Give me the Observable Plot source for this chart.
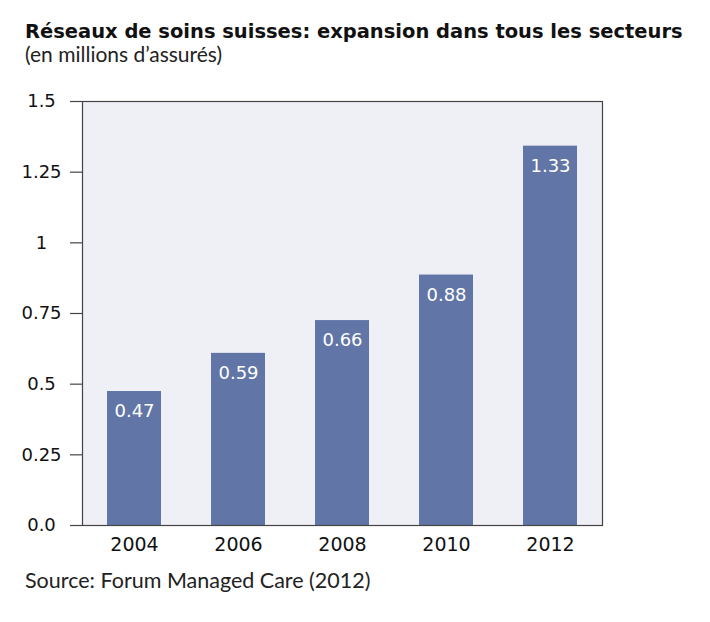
<!DOCTYPE html>
<html>
<head>
<meta charset="utf-8">
<script src="https://cdn.jsdelivr.net/npm/d3@7"></script>
<script src="https://cdn.jsdelivr.net/npm/@observablehq/plot@0.6"></script>
<style>
  html, body { margin: 0; padding: 0; background: #fff; }
  body { width: 710px; height: 622px; position: relative; overflow: hidden; font-family: "DejaVu Sans", sans-serif; color: #111; }
  .t { position: absolute; left: 25px; white-space: nowrap; line-height: 1; }
  #title { top: 21.5px; font-size: 18px; font-weight: bold; }
  #subtitle { top: 43px; font-family: Lato, sans-serif; font-size: 21px; color: #222; }
  #caption { top: 570px; font-family: Lato, sans-serif; font-size: 21.5px; color: #222; }
  #chart { position: absolute; left: 0; top: 85px; }
</style>
</head>
<body>
<div class="t" id="title">Réseaux de soins suisses: expansion dans tous les secteurs</div>
<div class="t" id="subtitle">(en millions d’assurés)</div>
<div id="chart"></div>
<div class="t" id="caption">Source: Forum Managed Care (2012)</div>
<script>
// Data
const years = ["2004", "2006", "2008", "2010", "2012"];
const barValues = [0.474, 0.609, 0.725, 0.886, 1.342];
const valueLabels = ["0.47", "0.59", "0.66", "0.88", "1.33"];
const yTicks = [0, 0.25, 0.5, 0.75, 1, 1.25, 1.5];
const yTickLabels = ["0.0", "0.25", "0.5", "0.75", "1", "1.25", "1.5"];

const data = years.map((y, i) => ({year: y, value: barValues[i], label: valueLabels[i]}));

// fit the title width to the reference
function fitWidth(id, target) {
  const el = document.getElementById(id);
  const fs = parseFloat(getComputedStyle(el).fontSize);
  const w = el.getBoundingClientRect().width;
  el.style.fontSize = (fs * target / w) + "px";
}
fitWidth("title", 658);

const chart = Plot.plot({
  width: 710,
  height: 480,
  marginLeft: 82,
  marginRight: 108,
  marginTop: 16,
  marginBottom: 40,
  style: {fontFamily: "DejaVu Sans, sans-serif", color: "#111", background: "transparent"},
  x: {domain: years, paddingInner: 0.48, paddingOuter: 0.24, axis: null, label: null},
  y: {domain: [0, 1.5], axis: null, label: null},
  marks: [
    Plot.frame({fill: "#efeff6", stroke: null}),
    Plot.barY(data, {x: "year", y: "value", fill: "#6176a6"}),
    Plot.text(data, {x: "year", y: "value", text: "label", dy: 20, fill: "#fff", fontSize: 18}),
    Plot.frame({stroke: "#444", strokeWidth: 1.2}),
    Plot.axisY(yTicks, {
      tickSize: 12, tickPadding: 29, textAnchor: "middle", label: null,
      tickFormat: (d) => yTickLabels[yTicks.indexOf(d)],
      fontSize: 18, stroke: "#444", strokeWidth: 1.2, fill: "#111"
    }),
    Plot.axisX(years, {tickSize: 0, tickPadding: 12, fontSize: 19, fill: "#111", label: null})
  ]
});
document.getElementById("chart").appendChild(chart);
</script>
</body>
</html>
